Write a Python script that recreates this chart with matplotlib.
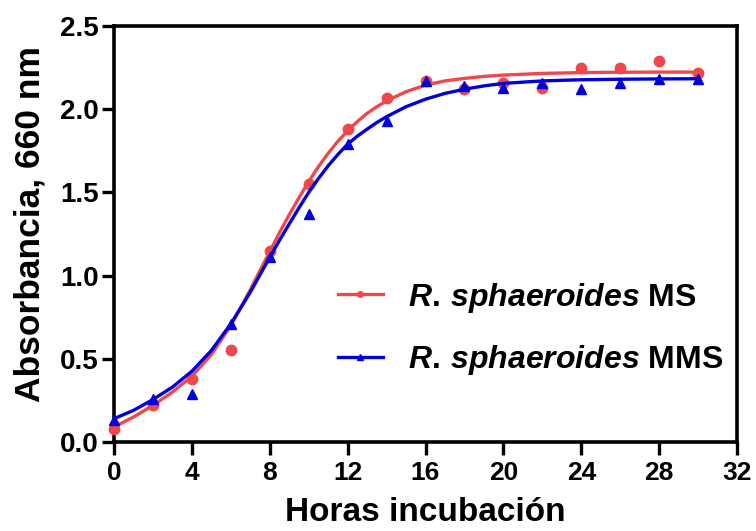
import matplotlib
matplotlib.use("Agg")
import matplotlib.pyplot as plt
from matplotlib.lines import Line2D

plt.rcParams['font.family'] = ['Liberation Sans', 'DejaVu Sans']
plt.rcParams['mathtext.fontset'] = 'custom'
plt.rcParams['mathtext.it'] = 'Liberation Sans:bold:italic'
plt.rcParams['mathtext.rm'] = 'Liberation Sans:bold'

# ---- data ----
hours_pts = [0, 2, 4, 6, 8, 10, 12, 14, 16, 18, 20, 22, 24, 26, 28, 30]
ms_pts = [0.08, 0.22, 0.38, 0.55, 1.15, 1.55, 1.88, 2.07, 2.17, 2.12, 2.16, 2.13, 2.25, 2.25, 2.29, 2.22]
mms_pts = [0.13, 0.26, 0.29, 0.71, 1.11, 1.37, 1.79, 1.93, 2.17, 2.14, 2.13, 2.16, 2.12, 2.16, 2.18, 2.18]

hours_fit = [0, 1, 2, 3, 4, 5, 6, 6.5, 7, 7.5, 8, 8.5, 9, 9.5, 10, 10.5, 11, 11.5, 12, 12.5,
             13, 13.5, 14, 15, 16, 17, 18, 19, 20, 22, 24, 26, 28, 30]
ms_fit = [0.09, 0.15, 0.22, 0.30, 0.395, 0.525, 0.70, 0.805, 0.915, 1.03, 1.145, 1.258, 1.365, 1.468,
          1.565, 1.655, 1.735, 1.807, 1.87, 1.926, 1.975, 2.015, 2.05, 2.105, 2.145, 2.17, 2.185,
          2.197, 2.205, 2.215, 2.22, 2.222, 2.223, 2.223]
mms_fit = [0.14, 0.19, 0.255, 0.33, 0.425, 0.55, 0.71, 0.805, 0.90, 1.005, 1.11, 1.212, 1.31, 1.407,
           1.50, 1.583, 1.66, 1.728, 1.79, 1.838, 1.88, 1.92, 1.955, 2.015, 2.06, 2.095, 2.12,
           2.14, 2.155, 2.17, 2.177, 2.18, 2.182, 2.183]

x_ticks = [0, 4, 8, 12, 16, 20, 24, 28, 32]
y_ticks = [0.0, 0.5, 1.0, 1.5, 2.0, 2.5]
labels = [r'$\mathit{R.}\,\mathit{sphaeroides}$ MS', r'$\mathit{R.}\,\mathit{sphaeroides}$ MMS']

red = '#F0484A'
blue = '#0000DD'

fig = plt.figure(figsize=(7.56, 5.31), dpi=100)
ax = fig.add_axes([114/756, 1-442/531, (737-114)/756, (442-26)/531])

ax.plot(hours_fit, ms_fit, color=red, lw=2.4, zorder=3, clip_on=False, solid_capstyle='round')
ax.plot(hours_fit, mms_fit, color=blue, lw=2.4, zorder=4, clip_on=False, solid_capstyle='round')
ax.plot(hours_pts, ms_pts, 'o', color=red, ms=7.5, zorder=3, clip_on=False)
ax.plot(hours_pts, mms_pts, '^', color=blue, ms=7.5, zorder=4, clip_on=False)

ax.set_xlim(0, 32)
ax.set_ylim(0, 2.5)
ax.set_xticks(x_ticks)
ax.set_yticks(y_ticks)
ax.set_yticklabels([f'{v:.1f}' for v in y_ticks])

for s in ax.spines.values():
    s.set_linewidth(2.6)
    s.set_color('black')
ax.tick_params(axis='both', direction='out', length=9, width=2.4, color='black')
ax.tick_params(axis='x', labelsize=19, pad=5)
ax.tick_params(axis='y', labelsize=20, pad=2)
for lab in ax.get_xticklabels() + ax.get_yticklabels():
    lab.set_fontweight('bold')

ax.set_xlabel('Horas incubación', fontsize=24, fontweight='bold', labelpad=8)
ax.set_ylabel('Absorbancia, 660 nm', fontsize=25.5, fontweight='bold')
ax.yaxis.set_label_coords(-(114 - 47) / 623, (442 - 224) / 416)

handles = [Line2D([], [], color=red, lw=2.4, marker='o', ms=4),
           Line2D([], [], color=blue, lw=2.4, marker='^', ms=4)]
ax.legend(handles, labels, loc='center left', bbox_to_anchor=((338-114)/623, (442-329)/416),
          frameon=False, prop={'size': 23, 'weight': 'bold'}, handlelength=1.4,
          handletextpad=0.8, labelspacing=0.9, borderaxespad=0, borderpad=0)

fig.savefig('out.png', dpi=100)
